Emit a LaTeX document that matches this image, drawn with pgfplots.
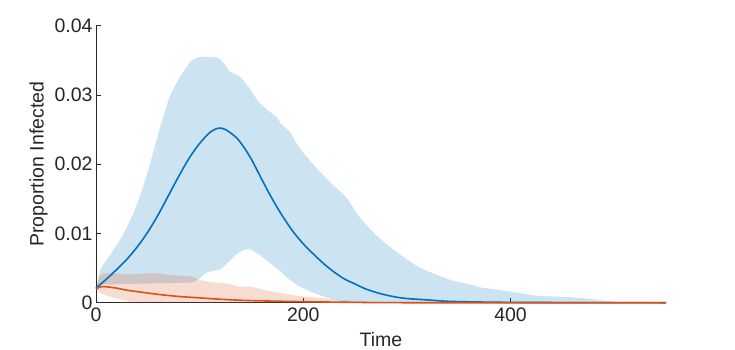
\documentclass[border=0pt]{standalone}
\usepackage{pgfplots}
\pgfplotsset{compat=1.18}
\usepackage{fontspec}
\setmainfont{Liberation Sans}

\definecolor{mblue}{RGB}{0,114,189}
\definecolor{morange}{RGB}{217,83,25}
\definecolor{axgray}{RGB}{38,38,38}

\begin{document}
\begin{tikzpicture}
\path[use as bounding box] (0,0) rectangle (735pt,349pt);
\begin{axis}[
    at={(96pt,46.3pt)}, anchor=south west,
    scale only axis,
    width=570pt, height=277pt,
    xmin=0, xmax=550, ymin=0, ymax=0.04,
    axis x line*=bottom, axis y line*=left,
    axis line style={axgray, line width=0.8pt, -},
    xtick={0,200,400},
    ytick={0,0.01,0.02,0.03,0.04},
    yticklabels={0,0.01,0.02,0.03,0.04},
    scaled y ticks=false,
    tick align=inside,
    major tick length=5pt,
    tick style={axgray, line width=0.8pt},
    ticklabel style={font=\fontsize{19.5}{22}\selectfont, text=axgray},
    xticklabel style={yshift=-2pt},
    /pgf/number format/assume math mode=true,
    xlabel={Time}, ylabel={Proportion Infected},
    label style={font=\fontsize{19.5}{22}\selectfont, text=axgray},
    xlabel style={yshift=-3pt},
    clip=false,
]
% blue band (upper edge, then lower edge back)
\addplot[draw=none, fill=mblue, fill opacity=0.2, smooth, tension=0.3] coordinates {
 (0,0.0022) (5,0.0050) (15,0.0072) (25,0.0095) (36,0.0129) (45,0.0165)
 (52,0.0200) (62,0.0254) (71,0.0297) (81,0.0326) (91,0.0348) (100,0.0355)
 (117,0.0354) (122,0.0348) (129,0.0334) (139,0.0326) (148,0.0310) (158,0.0288)
 (175,0.0267) (178,0.0259) (187,0.0247) (190,0.0239) (197,0.0222) (210,0.0199)
 (226,0.0174) (242,0.0151) (255,0.0122) (270,0.0098) (280,0.0085) (294,0.0069)
 (313,0.0050) (342,0.0033) (361,0.0026) (371,0.0022) (381,0.0020) (400,0.0016)
 (426,0.0010) (458,0.0008) (480,0.0005) (503,0.0001) (513,0)
 (250,0) (236,0.0003) (226,0.0006) (216,0.0011) (207,0.0016) (197,0.0023)
 (187,0.0033) (178,0.0045) (168,0.0057) (158,0.0069) (149,0.0077) (142,0.0076)
 (135,0.0069) (128,0.0059) (120,0.0048) (110,0.0045) (105,0.0042) (100,0.0035)
 (94,0.0030) (90,0.0029) (60,0.0028) (30,0.0027) (5,0.0026) (0,0.0020)
};
% orange band
\addplot[draw=none, fill=morange, fill opacity=0.2, smooth, tension=0.3] coordinates {
 (0,0.0020) (4,0.0040) (13,0.0043) (33,0.0041) (57,0.0043) (71,0.0040)
 (91,0.0038) (100,0.0033) (110,0.0030) (130,0.0027) (137,0.0023) (149,0.0023)
 (164,0.0018) (178,0.0014) (194,0.0010) (216,0.0007) (236,0.0004) (260,0.0002)
 (300,0.0001) (550,0)
 (45,0) (33,0.0002) (23,0.0005) (13,0.0009) (4,0.0014) (0,0.0020)
};
% blue mean
\addplot[mblue, line width=1.6pt, smooth] coordinates {
 (0,0.0021) (10,0.0034) (20,0.0048) (30,0.0063) (40,0.0081) (50,0.0102)
 (60,0.0127) (70,0.0155) (80,0.0183) (90,0.0209) (100,0.0230) (110,0.0246)
 (118,0.0252) (125,0.0250) (135,0.0239) (142,0.0226) (150,0.0207) (160,0.0178)
 (170,0.0150) (180,0.0125) (190,0.0103) (200,0.0085) (210,0.0070) (220,0.0056)
 (230,0.0044) (240,0.0034) (250,0.0027) (260,0.0020) (270,0.0015) (280,0.0011)
 (290,0.0008) (300,0.0006) (320,0.0004) (340,0.0002) (370,0.0001) (420,0.00003)
 (550,0)
};
% orange mean
\addplot[morange, line width=1.6pt, smooth] coordinates {
 (0,0.0020) (5,0.0023) (10,0.0023) (20,0.0021) (30,0.0018) (40,0.0016)
 (60,0.0012) (80,0.0009) (100,0.0007) (120,0.0005) (150,0.0003) (200,0.00015)
 (250,0.00005) (300,0) (550,0)
};
\end{axis}
\end{tikzpicture}
\end{document}
